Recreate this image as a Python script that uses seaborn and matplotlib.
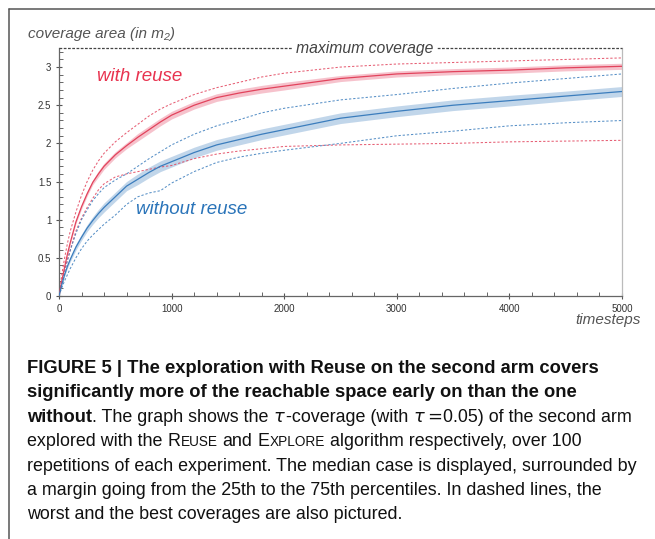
import numpy as np
import pandas as pd
import matplotlib
matplotlib.use("Agg")
import matplotlib.pyplot as plt
from matplotlib.lines import Line2D
from matplotlib.ticker import MultipleLocator, FixedLocator
import seaborn as sns

# timesteps at which the coverage was sampled
timesteps = [0, 25, 50, 75, 100, 150, 200, 250, 300, 350, 400, 500, 600, 700, 800, 900, 1000,
             1200, 1400, 1600, 1800, 2000, 2500, 3000, 3500, 4000, 4500, 5000]

# REUSE: median, quartile band half-width, best and worst runs
reuse_median = [0, 0.20, 0.38, 0.55, 0.70, 0.97, 1.17, 1.34, 1.49, 1.60, 1.70, 1.85, 1.97, 2.08,
                2.18, 2.28, 2.37, 2.50, 2.60, 2.66, 2.71, 2.75, 2.85, 2.91, 2.94, 2.96, 2.99, 3.01]
reuse_iqr = [0, 0.01, 0.01, 0.02, 0.02, 0.02, 0.03, 0.03, 0.03, 0.04, 0.04, 0.04, 0.04, 0.05,
             0.05, 0.05, 0.05, 0.05, 0.05, 0.05, 0.05, 0.05, 0.04, 0.04, 0.04, 0.04, 0.04, 0.04]
reuse_best = [0, 0.28, 0.50, 0.69, 0.85, 1.10, 1.32, 1.50, 1.65, 1.77, 1.87, 2.02, 2.14, 2.25,
              2.36, 2.45, 2.52, 2.64, 2.73, 2.80, 2.87, 2.92, 3.00, 3.04, 3.06, 3.08, 3.10, 3.12]
reuse_worst = [0, 0.18, 0.33, 0.47, 0.60, 0.85, 1.02, 1.16, 1.28, 1.39, 1.47, 1.56, 1.60, 1.63,
               1.66, 1.69, 1.71, 1.80, 1.86, 1.90, 1.93, 1.96, 1.98, 1.99, 2.00, 2.02, 2.03, 2.04]

# EXPLORE (no reuse)
explore_median = [0, 0.15, 0.28, 0.39, 0.48, 0.64, 0.77, 0.89, 0.99, 1.08, 1.16, 1.30, 1.44, 1.53,
                  1.62, 1.70, 1.76, 1.88, 1.98, 2.05, 2.12, 2.18, 2.33, 2.42, 2.50, 2.56, 2.62, 2.68]
explore_iqr = [0, 0.01, 0.02, 0.025, 0.03, 0.04, 0.04, 0.045, 0.05, 0.055, 0.06, 0.06, 0.06, 0.07,
               0.07, 0.07, 0.07, 0.07, 0.07, 0.07, 0.07, 0.07, 0.07, 0.07, 0.07, 0.07, 0.065, 0.065]
explore_best = [0, 0.18, 0.32, 0.47, 0.60, 0.82, 1.00, 1.13, 1.25, 1.34, 1.42, 1.52, 1.60, 1.70,
                1.80, 1.89, 1.98, 2.12, 2.23, 2.31, 2.40, 2.46, 2.57, 2.64, 2.72, 2.79, 2.85, 2.91]
explore_worst = [0, 0.11, 0.20, 0.28, 0.36, 0.50, 0.62, 0.72, 0.80, 0.87, 0.94, 1.06, 1.20, 1.30,
                 1.35, 1.38, 1.48, 1.63, 1.75, 1.82, 1.87, 1.91, 2.00, 2.10, 2.16, 2.23, 2.27, 2.30]

max_coverage = 3.25
x_ticks = [0, 1000, 2000, 3000, 4000, 5000]
y_ticks = [0, 0.5, 1, 1.5, 2, 2.5, 3]
y_tick_labels = ["0", "0.5", "1", "1.5", "2", "2.5", "3"]

RED, RED_BAND = "#e2435c", "#f5b8c4"
BLUE, BLUE_BAND = "#3b7dbd", "#b7cfe7"
GREY = "#555555"

sns.set_style("ticks")
plt.rcParams["font.family"] = ["Liberation Sans", "DejaVu Sans"]

df = pd.DataFrame({
    "t": timesteps,
    "reuse": reuse_median, "reuse_best": reuse_best, "reuse_worst": reuse_worst,
    "explore": explore_median, "explore_best": explore_best, "explore_worst": explore_worst,
})

fig = plt.figure(figsize=(6.55, 5.39), dpi=100)
W, H = 655, 539
ax = fig.add_axes([59 / W, 1 - 296 / H, 563 / W, 248 / H])

for name, med, iqr, line_c, band_c in [
    ("reuse", reuse_median, reuse_iqr, RED, RED_BAND),
    ("explore", explore_median, explore_iqr, BLUE, BLUE_BAND),
]:
    med = np.array(med)
    iqr = np.array(iqr)
    ax.fill_between(timesteps, med - iqr, med + iqr, color=band_c, lw=0, alpha=0.85, zorder=1)
    sns.lineplot(data=df, x="t", y=name, ax=ax, color=line_c, lw=0.9, zorder=3)
    for extra in ("_best", "_worst"):
        sns.lineplot(data=df, x="t", y=name + extra, ax=ax, color=line_c, lw=0.75,
                     linestyle=(0, (2.2, 1.8)), alpha=0.85, zorder=2)

ax.set_xlim(0, 5000)
ax.set_ylim(0, max_coverage)
ax.set_xlabel("")
ax.set_ylabel("")

# maximum coverage marker along the top of the plot
ax.axhline(max_coverage, color="#444444", lw=0.9, linestyle=(0, (2.2, 1.2)), clip_on=False, zorder=4)
ax.text(2718, max_coverage, "maximum coverage", ha="center", va="center", style="italic",
        fontsize=11.3, color="#444444", zorder=5,
        bbox=dict(facecolor="white", edgecolor="none", pad=2.5))

ax.text(720, 2.88, "with reuse", color="#e8334f", style="italic", fontsize=13.5,
        ha="center", va="center")
ax.text(1181, 1.14, "without reuse", color="#2a74b9", style="italic", fontsize=13.5,
        ha="center", va="center")

for s in ("left", "bottom"):
    ax.spines[s].set_color("#666666")
    ax.spines[s].set_linewidth(0.9)
ax.spines["right"].set_color("#bbbbbb")
ax.spines["right"].set_linewidth(0.9)
ax.spines["top"].set_visible(False)

ax.xaxis.set_major_locator(FixedLocator(x_ticks))
ax.xaxis.set_minor_locator(MultipleLocator(200))
ax.yaxis.set_major_locator(FixedLocator(y_ticks))
ax.set_yticklabels(y_tick_labels)
ax.yaxis.set_minor_locator(MultipleLocator(0.1))
ax.tick_params(axis="both", which="major", direction="inout", length=5, width=0.8,
               colors="#555555", labelsize=7, labelcolor="#333333", pad=3)
ax.tick_params(axis="both", which="minor", direction="in", length=3, width=0.7, colors="#666666")

fig.text(28 / W, 1 - 34 / H, "coverage area (in m₂)", style="italic", fontsize=11,
         color=GREY, ha="left", va="center")
fig.text(641 / W, 1 - 320 / H, "timesteps", style="italic", fontsize=11,
         color=GREY, ha="right", va="center")

# page frame
fig.add_artist(Line2D([9 / W, 9 / W], [0, 1 - 9 / H], color="#555555", lw=1.1))
fig.add_artist(Line2D([9 / W, 1], [1 - 9 / H, 1 - 9 / H], color="#555555", lw=1.1))

# caption, drawn run by run so bold, math and small caps can share a line
renderer = fig.canvas.get_renderer()
FS = 12.9
FSB = 13.25


def width_of(txt, **kw):
    t = fig.text(0, 0, txt, fontsize=kw.pop("fontsize", FS), **kw)
    w = t.get_window_extent(renderer).width
    t.remove()
    return w


def draw_line(y_px, runs, x_px=27):
    x = x_px
    for txt, kw in runs:
        kw = dict(kw)
        fs = kw.pop("fontsize", FS)
        sw = width_of("a a", fontsize=fs, **kw) - width_of("aa", fontsize=fs, **kw)
        lead = len(txt) - len(txt.lstrip(" "))
        trail = len(txt) - len(txt.rstrip(" "))
        body = txt.strip(" ")
        x += lead * sw
        if body:
            t = fig.text(x / W, 1 - y_px / H, body, fontsize=fs, color="#111111",
                         ha="left", va="baseline", **kw)
            x = t.get_window_extent(renderer).x1
        x += trail * sw


B = {"weight": "bold", "fontsize": FSB}
R = {}
SC = {"fontsize": FS * 0.76}
caption = [
    [("FIGURE 5 | The exploration with Reuse on the second arm covers", B)],
    [("significantly more of the reachable space early on than the one", B)],
    [("without", B), (". The graph shows the ", R), (r"$\tau$", R), ("-coverage (with ", R),
     (r"$\tau = $", R), ("0.05) of the second arm", R)],
    [("explored with the ", R), ("R", R), ("EUSE", SC), (" and ", R), ("E", R), ("XPLORE", SC),
     (" algorithm respectively, over 100", R)],
    [("repetitions of each experiment. The median case is displayed, surrounded by", R)],
    [("a margin going from the 25th to the 75th percentiles. In dashed lines, the", R)],
    [("worst and the best coverages are also pictured.", R)],
]
for i, runs in enumerate(caption):
    draw_line(373 + i * 24.4, runs)

fig.savefig("out.png", dpi=100)
